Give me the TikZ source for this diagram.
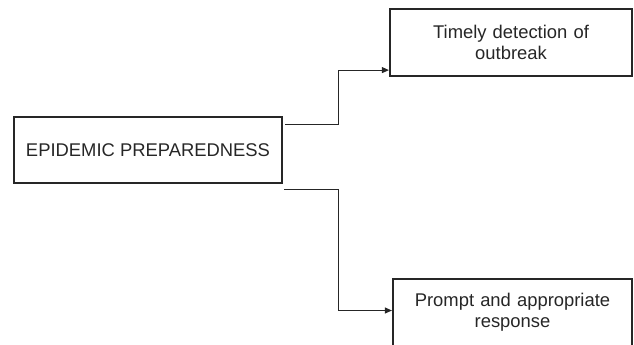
\documentclass[tikz,border=0pt]{standalone}
\usepackage{fontspec}
\setmainfont{Liberation Sans}
\usepackage{tikz}
\usetikzlibrary{arrows.meta, calc, positioning}

\begin{document}
\begin{tikzpicture}[x=1pt, y=1pt, >={Triangle[length=7pt,width=6pt]},
    box/.style={draw=black!85, line width=2.2pt, align=center, inner sep=0pt,
                font=\fontsize{18.4}{21.2}\selectfont, text=black!85},
    link/.style={->, draw=black!85, line width=1pt}]

    \clip (0,0) rectangle (634,-345);

    \node[box, minimum width=268, minimum height=66] (prep) at (148,-150) {EPIDEMIC PREPAREDNESS};
    \node[box, minimum width=242, minimum height=67, text width=230] (timely) at (511,-42.5) {Timely detection of\\outbreak};
    \node[box, minimum width=239, minimum height=67, text width=230] (prompt) at (512.5,-312.5) {Prompt and appropriate\\response};

    \coordinate (outA) at ($(prep.north east)+(2,-9)$);
    \coordinate (outB) at ($(prep.south east)+(1,-5)$);

    \draw[link] (outA) -- ++(53,0) |- ([yshift=7pt]timely.south west);
    \draw[link] (outB) -- ++(54,0) |- ([yshift=2pt]prompt.west);
\end{tikzpicture}
\end{document}
